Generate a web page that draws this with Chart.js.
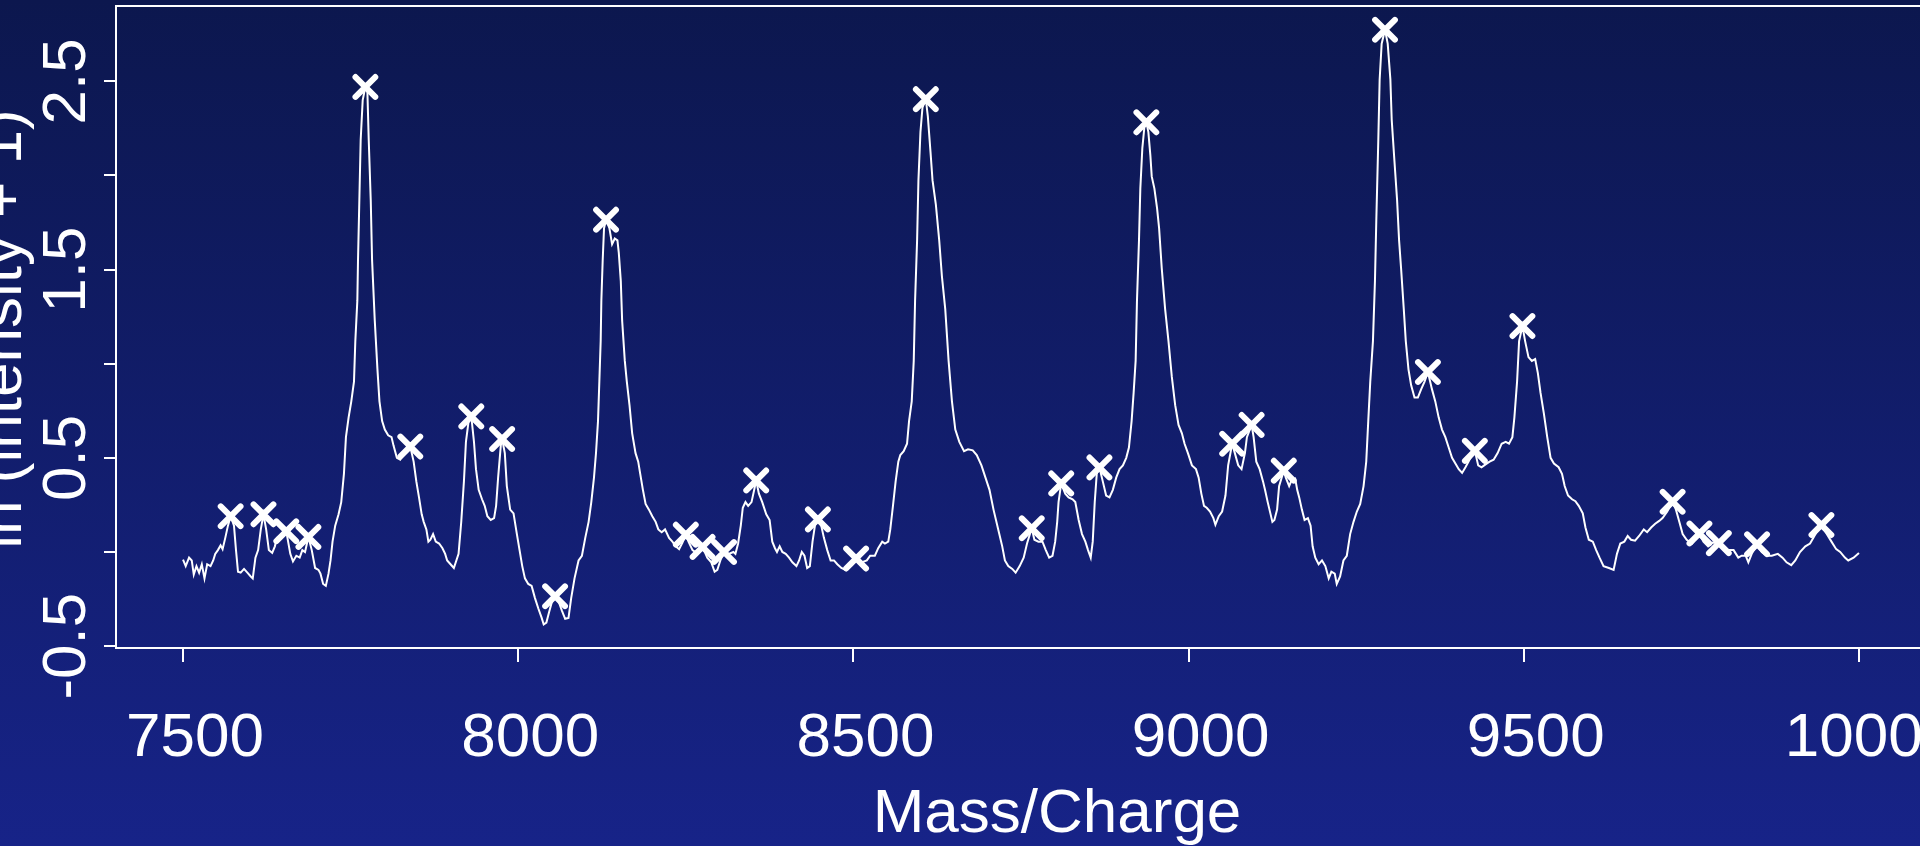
<!DOCTYPE html>
<html>
<head>
<meta charset="utf-8">
<title>Spectrum peaks</title>
<script src="https://cdn.jsdelivr.net/npm/chart.js@4.4.1/dist/chart.umd.min.js"></script>
<style>
  html, body {
    margin: 0;
    padding: 0;
    width: 1920px;
    height: 846px;
    overflow: hidden;
    background: linear-gradient(to bottom, #0c174e 0%, #172388 100%);
  }
  #wrap { position: absolute; left: 0; top: 0; width: 2000px; height: 846px; }
</style>
</head>
<body>
<div id="wrap"><canvas id="spectrum" width="2000" height="846"></canvas></div>
<script>
(function() {

  "use strict";

  // spectrum: mass/charge and ln(intensity + 1)
  var massValues = [
    7500, 7504, 7509, 7513, 7516, 7520, 7524, 7528, 7532, 7536, 7541, 7545, 7548, 7552, 7556, 7559,
    7563, 7567, 7571, 7576, 7579, 7582, 7586, 7591, 7596, 7601, 7604, 7608, 7612, 7616, 7620, 7624,
    7628, 7633, 7637, 7640, 7645, 7654, 7660, 7664, 7669, 7674, 7678, 7682, 7687, 7692, 7697, 7702,
    7705, 7709, 7713, 7717, 7720, 7723, 7727, 7732, 7736, 7740, 7743, 7747, 7751, 7755, 7757, 7760,
    7761, 7763, 7765, 7768, 7772, 7775, 7777, 7780, 7782, 7786, 7790, 7793, 7797, 7801, 7806, 7811,
    7814, 7819, 7824, 7832, 7839, 7844, 7848, 7852, 7856, 7859, 7863, 7866, 7869, 7873, 7877, 7882,
    7887, 7891, 7894, 7899, 7904, 7911, 7915, 7919, 7922, 7926, 7930, 7934, 7937, 7941, 7946, 7950,
    7954, 7959, 7964, 7967, 7970, 7974, 7976, 7980, 7983, 7988, 7993, 7998, 8002, 8006, 8010, 8015,
    8020, 8025, 8030, 8035, 8038, 8042, 8046, 8051, 8055, 8060, 8065, 8070, 8075, 8079, 8084, 8090,
    8095, 8100, 8105, 8109, 8113, 8116, 8119, 8121, 8123, 8124, 8126, 8128, 8131, 8136, 8140, 8144,
    8148, 8150, 8153, 8155, 8159, 8162, 8166, 8170, 8175, 8179, 8182, 8186, 8190, 8195, 8200, 8205,
    8209, 8214, 8219, 8225, 8230, 8235, 8240, 8245, 8250, 8254, 8260, 8266, 8271, 8275, 8282, 8288,
    8293, 8297, 8302, 8307, 8314, 8321, 8324, 8328, 8332, 8335, 8339, 8343, 8348, 8355, 8359, 8364,
    8370, 8375, 8379, 8383, 8386, 8390, 8394, 8399, 8404, 8409, 8415, 8419, 8423, 8427, 8431, 8435,
    8439, 8443, 8447, 8452, 8456, 8461, 8466, 8471, 8476, 8482, 8488, 8498, 8504, 8512, 8520, 8525,
    8532, 8537, 8543, 8547, 8552, 8555, 8559, 8563, 8567, 8570, 8575, 8580, 8583, 8587, 8590, 8592,
    8595, 8597, 8600, 8603, 8608, 8611, 8615, 8618, 8623, 8628, 8632, 8637, 8642, 8647, 8652, 8658,
    8665, 8671, 8678, 8684, 8691, 8697, 8703, 8709, 8717, 8722, 8726, 8731, 8737, 8742, 8748, 8754,
    8759, 8766, 8770, 8776, 8782, 8787, 8792, 8797, 8801, 8804, 8806, 8810, 8816, 8821, 8827, 8831,
    8836, 8841, 8846, 8850, 8854, 8857, 8860, 8863, 8867, 8872, 8877, 8882, 8887, 8892, 8897, 8902,
    8907, 8911, 8915, 8918, 8921, 8923, 8926, 8928, 8931, 8934, 8937, 8940, 8943, 8945, 8949, 8953,
    8956, 8960, 8965, 8970, 8975, 8980, 8985, 8990, 8994, 8999, 9005, 9011, 9015, 9019, 9023, 9027,
    9032, 9037, 9040, 9045, 9050, 9055, 9059, 9065, 9069, 9074, 9079, 9084, 9087, 9094, 9097, 9101,
    9106, 9111, 9114, 9118, 9122, 9125, 9128, 9132, 9135, 9142, 9145, 9150, 9154, 9159, 9162, 9165,
    9169, 9173, 9178, 9182, 9185, 9189, 9194, 9199, 9204, 9209, 9213, 9218, 9221, 9226, 9231, 9236,
    9241, 9246, 9251, 9256, 9261, 9265, 9268, 9271, 9275, 9278, 9280, 9283, 9285, 9288, 9293, 9297,
    9301, 9303, 9307, 9311, 9314, 9317, 9321, 9324, 9328, 9332, 9337, 9342, 9347, 9352, 9357, 9363,
    9368, 9373, 9378, 9383, 9388, 9393, 9398, 9403, 9408, 9413, 9419, 9427, 9432, 9437, 9443, 9449,
    9455, 9461, 9467, 9473, 9478, 9483, 9486, 9490, 9493, 9498, 9502, 9507, 9512, 9517, 9521, 9525,
    9530, 9535, 9540, 9545, 9552, 9557, 9561, 9566, 9572, 9577, 9582, 9588, 9592, 9597, 9603, 9608,
    9613, 9619, 9627, 9634, 9639, 9644, 9650, 9655, 9660, 9666, 9672, 9679, 9684, 9690, 9696, 9702,
    9707, 9714, 9722, 9727, 9732, 9737, 9743, 9751, 9762, 9768, 9775, 9782, 9791, 9798, 9806, 9813,
    9820, 9825, 9831, 9835, 9840, 9848, 9855, 9863, 9870, 9879, 9886, 9892, 9899, 9905, 9912, 9920,
    9927, 9932, 9939, 9944, 9952, 9959, 9966, 9972, 9979, 9984, 9992, 10000
  ];

  var intensityValues = [
    -0.04, -0.075, -0.03, -0.045, -0.12, -0.075, -0.11, -0.065, -0.14, -0.065, -0.075, -0.045, -0.01, 0.01, 0.035, 0.015,
    0.075, 0.14, 0.19, 0.14, 0.01, -0.105, -0.11, -0.09, -0.11, -0.13, -0.14, -0.03, 0.01, 0.12, 0.2, 0.12,
    0.01, -0.005, 0.03, 0.075, 0.085, 0.11, -0.01, -0.05, -0.02, -0.03, 0.01, 0.0, 0.08, 0.01, -0.085, -0.095,
    -0.115, -0.17, -0.18, -0.115, -0.045, 0.055, 0.14, 0.2, 0.265, 0.415, 0.61, 0.715, 0.8, 0.905, 1.12, 1.335,
    1.55, 1.87, 2.19, 2.4, 2.47, 2.445, 2.19, 1.87, 1.55, 1.23, 0.97, 0.8, 0.695, 0.65, 0.62, 0.61,
    0.565, 0.5, 0.49, 0.535, 0.56, 0.48, 0.375, 0.29, 0.2, 0.16, 0.12, 0.055, 0.065, 0.095, 0.055, 0.045,
    0.02, -0.01, -0.045, -0.065, -0.085, -0.01, 0.16, 0.375, 0.585, 0.695, 0.72, 0.585, 0.44, 0.33, 0.28, 0.245,
    0.19, 0.17, 0.18, 0.245, 0.395, 0.565, 0.6, 0.525, 0.35, 0.225, 0.205, 0.095, 0.01, -0.075, -0.14, -0.17,
    -0.18, -0.245, -0.3, -0.35, -0.385, -0.375, -0.32, -0.255, -0.235, -0.26, -0.31, -0.355, -0.35, -0.245, -0.14, -0.045,
    -0.02, 0.075, 0.16, 0.265, 0.395, 0.525, 0.695, 0.905, 1.12, 1.335, 1.55, 1.72, 1.765, 1.72, 1.635, 1.665,
    1.655, 1.59, 1.44, 1.23, 1.015, 0.905, 0.78, 0.63, 0.525, 0.48, 0.415, 0.33, 0.255, 0.225, 0.19, 0.16,
    0.12, 0.105, 0.12, 0.075, 0.055, 0.03, 0.015, 0.05, 0.092, 0.055, 0.01, -0.005, 0.015, 0.027, -0.03, -0.055,
    -0.105, -0.095, -0.04, 0.0, -0.01, 0.0, -0.01, 0.045, 0.14, 0.235, 0.265, 0.245, 0.265, 0.38, 0.31, 0.265,
    0.2, 0.17, 0.055, 0.02, 0.0, 0.03, 0.0, -0.01, -0.03, -0.055, -0.075, -0.045, 0.0, -0.02, -0.085, -0.075,
    0.055, 0.15, 0.173, 0.14, 0.075, 0.01, -0.045, -0.045, -0.065, -0.085, -0.095, -0.07, -0.035, -0.055, -0.045, -0.02,
    -0.02, 0.02, 0.055, 0.045, 0.055, 0.12, 0.245, 0.375, 0.48, 0.515, 0.535, 0.575, 0.695, 0.8, 1.015, 1.335,
    1.655, 1.975, 2.23, 2.36, 2.405, 2.315, 2.125, 1.975, 1.845, 1.655, 1.465, 1.29, 1.015, 0.8, 0.65, 0.585,
    0.535, 0.545, 0.54, 0.515, 0.46, 0.395, 0.33, 0.225, 0.105, 0.03, -0.045, -0.075, -0.09, -0.11, -0.075, -0.03,
    0.045, 0.126, 0.065, 0.055, 0.055, 0.01, -0.03, -0.02, 0.055, 0.16, 0.265, 0.364, 0.31, 0.29, 0.28, 0.265,
    0.17, 0.095, 0.055, 0.01, -0.03, 0.055, 0.265, 0.415, 0.449, 0.375, 0.3, 0.29, 0.33, 0.395, 0.44, 0.46,
    0.5, 0.555, 0.695, 0.845, 1.015, 1.335, 1.655, 1.93, 2.145, 2.255, 2.282, 2.23, 2.105, 1.995, 1.93, 1.825,
    1.72, 1.505, 1.29, 1.12, 0.93, 0.78, 0.675, 0.63, 0.575, 0.525, 0.46, 0.44, 0.395, 0.31, 0.245, 0.235,
    0.215, 0.18, 0.145, 0.19, 0.215, 0.3, 0.46, 0.575, 0.525, 0.46, 0.44, 0.525, 0.61, 0.675, 0.61, 0.48,
    0.44, 0.375, 0.33, 0.265, 0.205, 0.16, 0.17, 0.225, 0.35, 0.432, 0.395, 0.35, 0.385, 0.39, 0.33, 0.29,
    0.225, 0.17, 0.18, 0.14, 0.03, -0.03, -0.065, -0.045, -0.075, -0.14, -0.105, -0.115, -0.17, -0.13, -0.045, -0.02,
    0.095, 0.16, 0.215, 0.255, 0.35, 0.48, 0.695, 0.905, 1.12, 1.44, 1.76, 2.19, 2.51, 2.7, 2.774, 2.7,
    2.51, 2.295, 2.08, 1.87, 1.655, 1.505, 1.29, 1.12, 0.97, 0.885, 0.82, 0.82, 0.865, 0.905, 0.956, 0.865,
    0.8, 0.715, 0.65, 0.61, 0.555, 0.5, 0.47, 0.44, 0.42, 0.45, 0.49, 0.537, 0.46, 0.45, 0.465, 0.48,
    0.49, 0.525, 0.575, 0.585, 0.575, 0.61, 0.715, 0.905, 1.12, 1.2, 1.12, 1.035, 1.015, 1.025, 0.95, 0.845,
    0.735, 0.61, 0.5, 0.47, 0.45, 0.415, 0.35, 0.3, 0.28, 0.27, 0.245, 0.205, 0.13, 0.065, 0.055, 0.01,
    -0.03, -0.075, -0.085, -0.095, -0.01, 0.045, 0.055, 0.085, 0.065, 0.06, 0.085, 0.12, 0.105, 0.13, 0.15, 0.165,
    0.18, 0.215, 0.267, 0.225, 0.16, 0.095, 0.065, 0.045, 0.098, 0.055, 0.03, 0.05, 0.047, 0.02, 0.01, 0.01,
    -0.03, -0.02, -0.02, -0.055, -0.01, 0.041, 0.0, -0.02, -0.02, -0.01, -0.03, -0.055, -0.07, -0.045, 0.0, 0.03,
    0.045, 0.075, 0.12, 0.143, 0.095, 0.055, 0.015, 0.0, -0.03, -0.045, -0.03, -0.005
  ];

  // detected peaks (the X marks)
  var peakMass = [
    7571, 7620, 7654, 7687, 7772, 7839, 7930, 7976, 8055, 8131, 8250,
    8275, 8307, 8355, 8447, 8504, 8608, 8766, 8810, 8867, 8937, 9065,
    9094, 9142, 9293, 9357, 9427, 9498, 9722, 9762, 9791, 9848, 9944
  ];
  var peakIntensity = [
    0.19, 0.2, 0.11, 0.08, 2.47, 0.56, 0.72, 0.6, -0.235, 1.765, 0.092,
    0.027, 0.0, 0.38, 0.173, -0.035, 2.405, 0.126, 0.364, 0.449, 2.282, 0.575,
    0.675, 0.432, 2.774, 0.956, 0.537, 1.2, 0.267, 0.098, 0.047, 0.041, 0.143
  ];

  var xTickValues = [7500, 8000, 8500, 9000, 9500, 10000];
  var yTickValues = [-0.5, 0, 0.5, 1, 1.5, 2, 2.5];
  var yLabelValues = [-0.5, 0.5, 1.5, 2.5];

  var xTitle = "Mass/Charge";
  var yTitle = "ln (intensity + 1)";

  var FONT = '"Liberation Sans", Arial, Helvetica, sans-serif';

  var spectrumPoints = massValues.map(function(m, i) {
    return { x: m, y: intensityValues[i] };
  });
  var peakPoints = peakMass.map(function(m, i) {
    return { x: m, y: peakIntensity[i] };
  });

  // R style box, rotated y labels and axis titles
  var rAxes = {
    id: 'rAxes',
    beforeDatasetDraw: function(chart, args) {
      if (args.index === 1) chart.ctx.lineCap = 'round';
    },
    afterDatasetDraw: function(chart, args) {
      if (args.index === 1) chart.ctx.lineCap = 'butt';
    },
    afterDraw: function(chart) {
      var ctx = chart.ctx;
      var area = chart.chartArea;
      var yScale = chart.scales.y;

      ctx.save();
      ctx.strokeStyle = '#ffffff';
      ctx.lineWidth = 2;
      ctx.strokeRect(area.left, area.top, area.right - area.left, area.bottom - area.top);

      ctx.fillStyle = '#ffffff';
      ctx.font = '62px ' + FONT;
      ctx.textAlign = 'center';
      ctx.textBaseline = 'alphabetic';

      yLabelValues.forEach(function(v) {
        ctx.save();
        ctx.translate(area.left - 31, yScale.getPixelForValue(v));
        ctx.rotate(-Math.PI / 2);
        ctx.fillText(String(v), 0, 0);
        ctx.restore();
      });

      ctx.save();
      ctx.translate(21, (area.top + area.bottom) / 2 + 2);
      ctx.rotate(-Math.PI / 2);
      ctx.fillText(yTitle, 0, 0);
      ctx.restore();

      ctx.fillText(xTitle, 1057, 832);
      ctx.restore();
    }
  };

  new Chart(document.getElementById('spectrum'), {
    type: 'scatter',
    data: {
      datasets: [{
        label: 'spectrum',
        data: spectrumPoints,
        showLine: true,
        borderColor: '#ffffff',
        borderWidth: 2,
        pointRadius: 0,
        tension: 0,
        clip: false
      }, {
        label: 'peaks',
        data: peakPoints,
        showLine: false,
        pointStyle: 'crossRot',
        pointRadius: 14,
        pointBorderWidth: 6,
        pointBorderColor: '#ffffff',
        pointBackgroundColor: '#ffffff',
        clip: false
      }]
    },
    options: {
      responsive: false,
      animation: false,
      devicePixelRatio: 1,
      layout: {
        autoPadding: false,
        padding: { left: 0, right: 74, top: 6, bottom: 0 }
      },
      plugins: {
        legend: false,
        tooltip: false,
        title: { display: false }
      },
      scales: {
        x: {
          type: 'linear',
          position: 'bottom',
          min: 7400,
          max: 10100,
          afterBuildTicks: function(scale) {
            scale.ticks = xTickValues.map(function(v) { return { value: v }; });
          },
          afterFit: function(scale) { scale.height = 198; },
          border: { display: false },
          grid: {
            drawOnChartArea: false,
            drawTicks: true,
            tickLength: 14,
            color: '#ffffff',
            lineWidth: 2
          },
          ticks: {
            color: '#ffffff',
            padding: 40,
            labelOffset: 12,
            autoSkip: false,
            maxRotation: 0,
            font: { family: FONT, size: 62 },
            callback: function(value) { return String(value); }
          }
        },
        y: {
          type: 'linear',
          min: -0.51,
          max: 2.9,
          afterBuildTicks: function(scale) {
            scale.ticks = yTickValues.map(function(v) { return { value: v }; });
          },
          afterFit: function(scale) { scale.width = 116; },
          border: { display: false },
          grid: {
            drawOnChartArea: false,
            drawTicks: true,
            tickLength: 12,
            color: '#ffffff',
            lineWidth: 2
          },
          ticks: { display: false }
        }
      }
    },
    plugins: [rAxes]
  });

})();
</script>
</body>
</html>
